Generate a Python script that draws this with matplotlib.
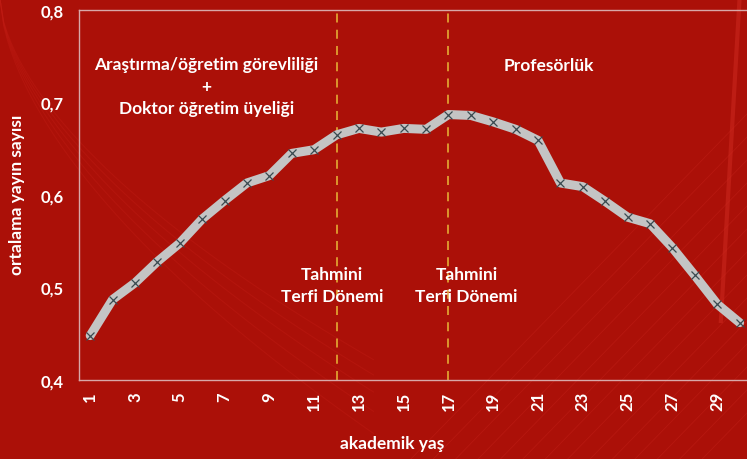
import matplotlib
matplotlib.use("Agg")
import matplotlib.pyplot as plt
import numpy as np

# akademik yaş 1..30 ve ortalama yayın sayısı
years = list(range(1, 31))
pubs = [0.448, 0.487, 0.505, 0.528, 0.548, 0.574, 0.594, 0.613, 0.621, 0.645,
        0.649, 0.665, 0.672, 0.668, 0.672, 0.671, 0.687, 0.686, 0.679, 0.671,
        0.659, 0.613, 0.609, 0.593, 0.576, 0.569, 0.543, 0.513, 0.482, 0.462]
promotion_years = [12, 17]
yticks = [0.4, 0.5, 0.6, 0.7, 0.8]
ytick_labels = ["0,4", "0,5", "0,6", "0,7", "0,8"]
xticks = list(range(1, 30, 2))

bg = "#ab1008"
plt.rcParams['font.family'] = ['Lato', 'DejaVu Sans']

fig = plt.figure(figsize=(7.47, 4.6), dpi=100, facecolor=bg)

# decorative faint background lines
deco = fig.add_axes([0, 0, 1, 1], zorder=0)
deco.set_facecolor(bg)
deco.set_xlim(0, 1)
deco.set_ylim(0, 1)
deco.axis("off")
for k in range(14):
    x0 = 0.55 + k * 0.03
    deco.plot([x0, x0 + 0.45], [0, 0.75], color="#c22018", lw=0.6, alpha=0.5)
for k in range(5):
    xs = np.linspace(0, 0.5, 100)
    deco.plot(xs, 1.0 - (xs / (0.55 + k * 0.05)) ** 0.6, color="#c01c14",
              lw=0.8, alpha=0.4)
deco.plot([0.99, 0.965], [1, 0.3], color="#d02a20", lw=3, alpha=0.5)

ax = fig.add_axes([79 / 747, 1 - 381 / 460, 668 / 747, 370 / 460], zorder=1)
ax.set_facecolor("none")

ax.plot(years, pubs, color="#c4c4c4", lw=6.5, solid_joinstyle="round",
        solid_capstyle="round", zorder=3)
ax.plot(years, pubs, ls="none", marker="x", ms=6, mew=0.9, color="#3a4a50",
        zorder=4)

for px in promotion_years:
    ax.axvline(px, color="#e0a030", lw=1.3, ls=(0, (5, 4)), zorder=2)

ax.set_xlim(0.5, 30.33)
ax.set_ylim(0.4, 0.8)
ax.set_yticks(yticks)
ax.set_yticklabels(ytick_labels)
ax.set_xticks(xticks)
ax.set_xticklabels([str(v) for v in xticks], rotation=90)
ax.tick_params(length=0, colors="white", labelsize=12)
for lab in ax.get_xticklabels() + ax.get_yticklabels():
    lab.set_fontweight("bold")
ax.tick_params(axis="y", pad=11)
ax.tick_params(axis="x", pad=8)

for side in ["left", "bottom", "top"]:
    ax.spines[side].set_color("#d8a8a8")
    ax.spines[side].set_linewidth(1)
ax.spines["right"].set_visible(False)

ax.set_ylabel("ortalama yayın sayısı", color="white", fontsize=12.5,
              fontweight="bold")
ax.yaxis.set_label_coords(-0.081, 0.503)
ax.set_xlabel("akademik yaş", color="white", fontsize=12.5, fontweight="bold")
ax.xaxis.set_label_coords(0.469, -0.150)

tkw = dict(color="white", fontsize=12.5, fontweight="bold", ha="center",
           va="center", linespacing=1.45)
ax.text(6.2, 0.718, "Araştırma/öğretim görevliliği\n+\nDoktor öğretim üyeliği",
        **tkw)
ax.text(21.5, 0.741, "Profesörlük", **tkw)
ax.text(11.8, 0.503, "Tahmini\nTerfi Dönemi", **tkw)
ax.text(17.8, 0.503, "Tahmini\nTerfi Dönemi", **tkw)

fig.savefig("out.png", dpi=100, facecolor=bg)
